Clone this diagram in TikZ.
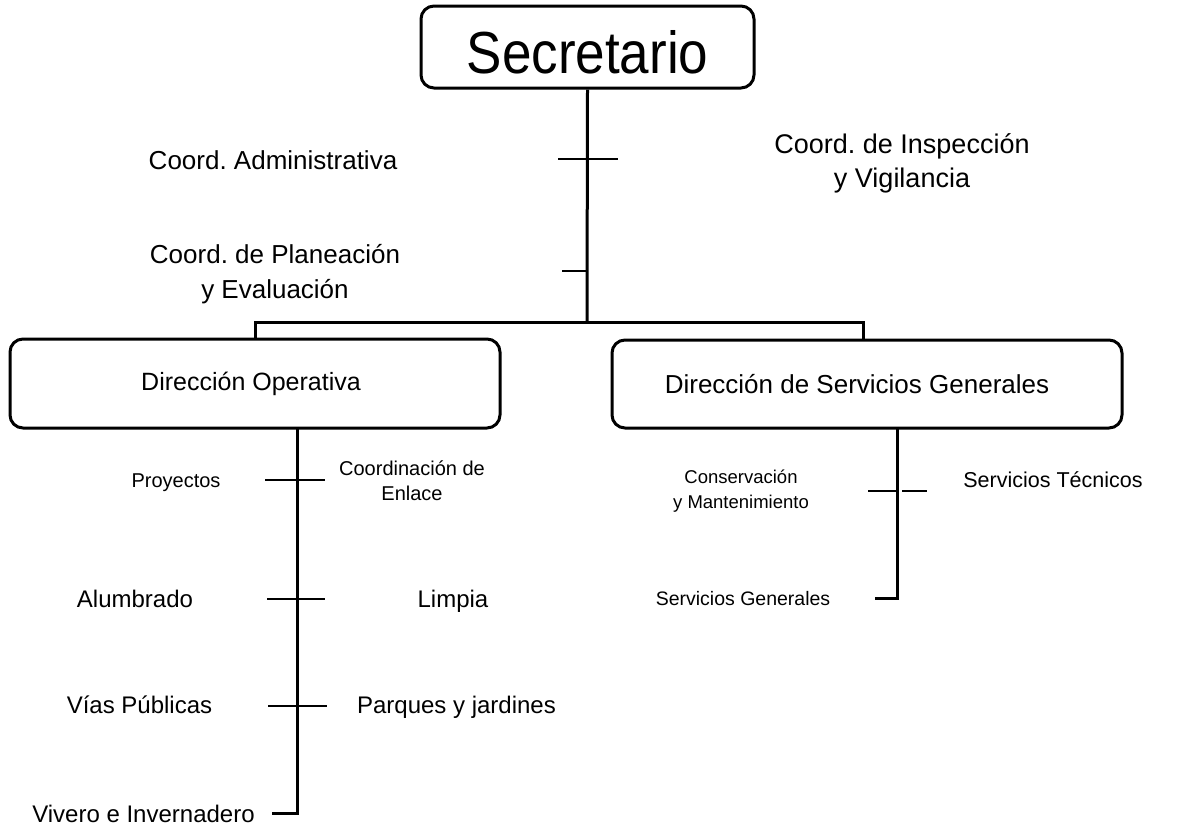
\documentclass[tikz,border=0pt]{standalone}
\usepackage{fontspec}
\setmainfont{Liberation Sans}
\frenchspacing
\begin{document}
\begin{tikzpicture}[x=1pt,y=-1pt,
  box/.style={draw,line width=3pt,rounded corners=13pt,inner sep=0pt},
  conn/.style={line width=3pt},
  tickline/.style={line width=2.8pt},
  lbl/.style={inner sep=0pt,anchor=base,align=center}]
\useasboundingbox (0,0) rectangle (1183,828);
% boxes
\node[box,minimum width=333pt,minimum height=82pt,text height=53pt,text depth=0pt] (sec) at (587.5,47)
  {\fontsize{53}{60}\selectfont\scalebox{1}[1.12]{Secretario}};
\node[box,minimum width=490pt,minimum height=89pt] (op) at (255,383.5)
  {\fontsize{25}{30}\selectfont\hspace*{-8pt}Dirección Operativa};
\node[box,minimum width=510pt,minimum height=88pt] (sg) at (867,384)
  {\fontsize{26}{30}\selectfont\hspace*{-20pt}Dirección de Servicios Generales};
% labels (base = baseline of last line)
\node[lbl,font={\fontsize{26}{35}\selectfont}] (ca) at (273,169) {Coord. Administrativa};
\node[lbl,font={\fontsize{26}{35}\selectfont}] (cp) at (275,298) {Coord. de Planeación\\y Evaluación};
\node[lbl,font={\fontsize{27}{34}\selectfont}] (ci) at (902,187) {Coord. de Inspección\\y Vigilancia};
\node[lbl,font={\fontsize{20}{25}\selectfont}] (pr) at (176,487) {Proyectos};
\node[lbl,font={\fontsize{20}{25}\selectfont}] (ce) at (412,500) {Coordinación de\\Enlace};
\node[lbl,font={\fontsize{24}{29}\selectfont}] (al) at (135,607) {Alumbrado};
\node[lbl,font={\fontsize{24}{29}\selectfont}] (li) at (453,607) {Limpia};
\node[lbl,font={\fontsize{24}{29}\selectfont}] (vp) at (139.5,713) {Vías Públicas};
\node[lbl,font={\fontsize{24}{29}\selectfont}] (pj) at (456.5,713) {Parques y jardines};
\node[lbl,font={\fontsize{24}{29}\selectfont}] (vi) at (143.5,822) {Vivero e Invernadero};
\node[lbl,font={\fontsize{18.5}{25}\selectfont}] (co) at (741,508) {Conservación\\y Mantenimiento};
\node[lbl,font={\fontsize{21.5}{26}\selectfont}] (st) at (1053,487) {Servicios Técnicos};
\node[lbl,font={\fontsize{19.5}{24}\selectfont}] (sgl) at (743,605) {Servicios Generales};
% main trunk
\coordinate (bus) at (587,322);
\draw[conn] (sec.south) -- (bus);
\draw[conn] (op.north) |- (bus) -| ([xshift=-4pt]sg.north);
\coordinate (t1) at (587,159);
\coordinate (t2) at (587,271);
\draw[tickline] ([xshift=-29pt]t1) -- ([xshift=31pt]t1);
\draw[tickline] ([xshift=-25pt]t2) -- (t2);
% left branch
\coordinate (lt) at (297,428);
\coordinate (lb) at (297,813);
\coordinate (lh) at (272,813);
\draw[conn] (lt) -- (lb) -- (lh);
\coordinate (l1) at (297,480);
\coordinate (l2) at (297,599);
\coordinate (l3) at (297,706);
\draw[tickline] ([xshift=-32pt]l1) -- ([xshift=28pt]l1);
\draw[tickline] ([xshift=-30pt]l2) -- ([xshift=28pt]l2);
\draw[tickline] ([xshift=-29pt]l3) -- ([xshift=30pt]l3);
% right branch
\coordinate (rt) at (897,428);
\coordinate (rb) at (897,598);
\coordinate (rh) at (875,598);
\draw[conn] (rt) -- (rb) -- (rh);
\coordinate (r1) at (897,491);
\draw[tickline] ([xshift=-29pt]r1) -- (r1);
\draw[line width=1.8pt] ([xshift=5pt]r1) -- ([xshift=30pt]r1);
\end{tikzpicture}
\end{document}
